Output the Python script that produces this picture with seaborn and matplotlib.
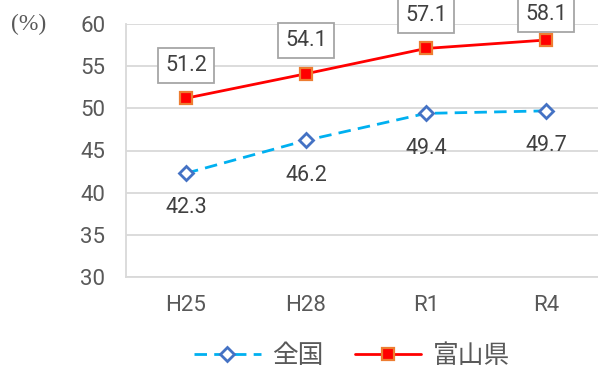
import matplotlib
matplotlib.use("Agg")
import matplotlib.pyplot as plt
import seaborn as sns
import pandas as pd

categories = ["H25", "H28", "R1", "R4"]
national = [42.3, 46.2, 49.4, 49.7]
toyama = [51.2, 54.1, 57.1, 58.1]
series_names = ["全国", "富山県"]
y_ticks = [30, 35, 40, 45, 50, 55, 60]

sns.set_theme(style="white")
plt.rcParams["font.family"] = ["Roboto", "Noto Sans CJK JP", "DejaVu Sans"]

text_color = "#595959"
label_color = "#404040"
grid_color = "#D9D9D9"

W, H = 598, 369
fig = plt.figure(figsize=(W / 100, H / 100), dpi=100)
ax = fig.add_axes([126 / W, 1 - 277 / H, 480 / W, 253 / H])

df_nat = pd.DataFrame({"year": categories, "rate": national})
df_toy = pd.DataFrame({"year": categories, "rate": toyama})

sns.lineplot(data=df_nat, x="year", y="rate", ax=ax, sort=False,
             color="#00B0F0", linewidth=2, linestyle=(0, (4.5, 2.6)),
             marker="D", markersize=7.5, markerfacecolor="white",
             markeredgecolor="#4472C4", markeredgewidth=2, label=series_names[0])
sns.lineplot(data=df_toy, x="year", y="rate", ax=ax, sort=False,
             color="#FF0000", linewidth=2,
             marker="s", markersize=9, markerfacecolor="#FF0000",
             markeredgecolor="#ED7D31", markeredgewidth=1.6, label=series_names[1])

ax.set_xlim(-0.5, len(categories) - 0.5)
ax.set_ylim(30, 60)
ax.set_yticks(y_ticks)
ax.set_xlabel("")
ax.set_ylabel("")
ax.yaxis.grid(True, color=grid_color, linewidth=1.3)
ax.set_axisbelow(True)
for side in ["top", "right"]:
    ax.spines[side].set_visible(False)
for side in ["left", "bottom"]:
    ax.spines[side].set_color(grid_color)
    ax.spines[side].set_linewidth(1.3)

ax.tick_params(axis="y", length=0, pad=15, labelsize=16, labelcolor=text_color)
ax.tick_params(axis="x", direction="in", length=4, width=1.3, color=grid_color,
               pad=13, labelsize=16, labelcolor=text_color)

# value labels: national below the markers, Toyama boxed above (kept inside the figure)
for i, v in enumerate(national):
    ax.annotate(f"{v:.1f}", (i, v), xytext=(0, -25), textcoords="offset points",
                ha="center", va="center", fontsize=15.5, color=label_color)
for i, v in enumerate(toyama):
    px, py = ax.transData.transform((i, v))
    ty = min(py + 33, H - 15)
    ax.annotate(f"{v:.1f}", (i, v), xytext=(px, ty), textcoords="figure pixels",
                ha="center", va="center", fontsize=15.5, color=label_color,
                bbox=dict(boxstyle="square,pad=0.32", fc="white", ec="#A6A6A6", lw=1.3),
                annotation_clip=False)

fig.text(11 / W, 1 - 24 / H, "(%)", fontsize=17, color=text_color,
         ha="left", va="center", family=["Liberation Serif", "DejaVu Serif"])

ax.legend_.remove()
handles, labels = ax.get_legend_handles_labels()
fig.legend(handles, labels, loc="center", bbox_to_anchor=(352 / W, 1 - 356 / H),
           ncol=2, frameon=False, handlelength=2.6, handletextpad=0.45,
           columnspacing=1.2, labelcolor=text_color,
           prop={"family": ["Noto Sans CJK JP", "DejaVu Sans"], "size": 18.5})

fig.savefig("out.png", dpi=100)
